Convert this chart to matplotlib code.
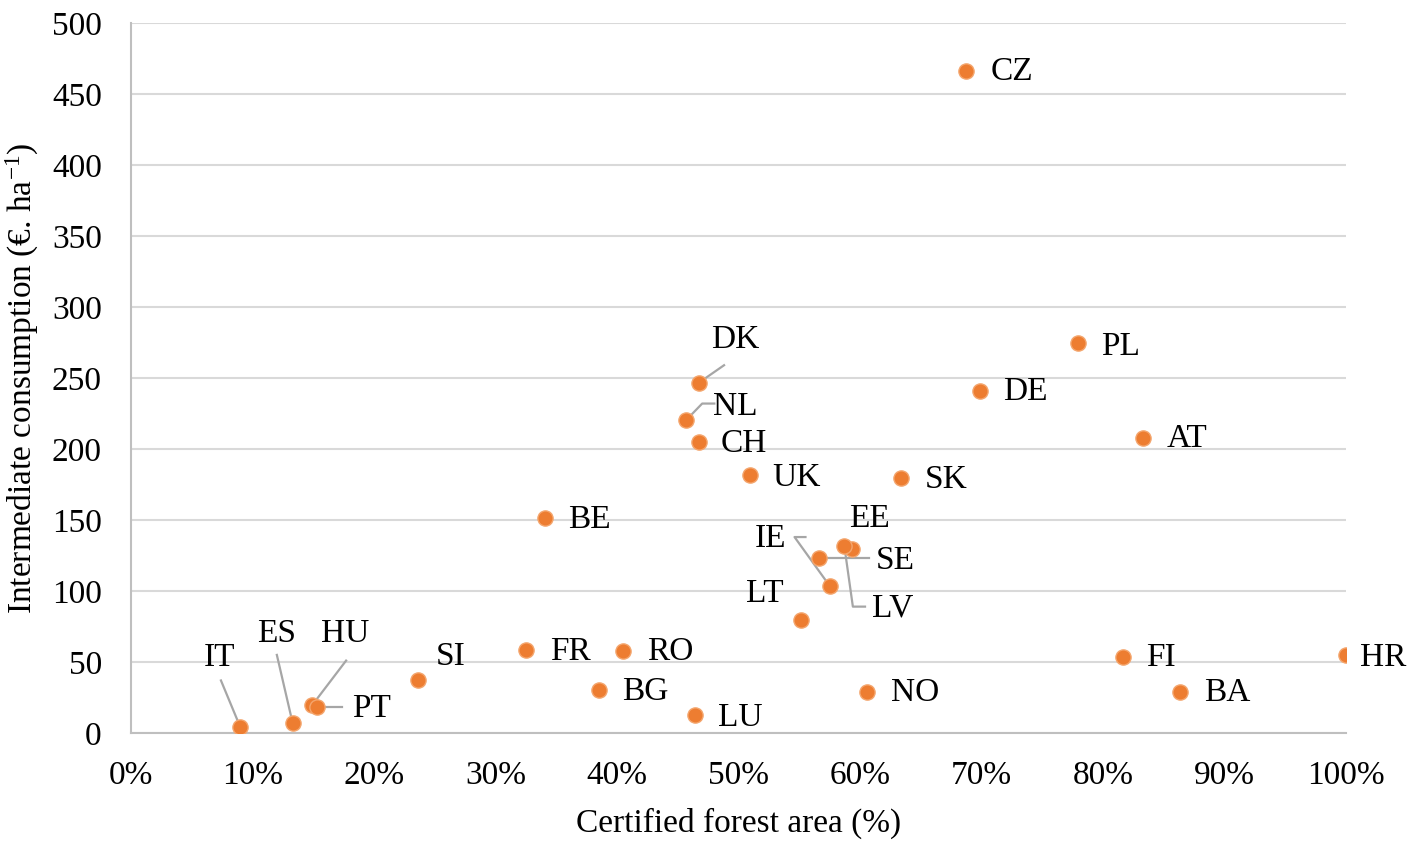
import matplotlib
matplotlib.use('Agg')
import matplotlib.pyplot as plt

plt.rcParams['font.family'] = ['Liberation Serif', 'DejaVu Serif']
plt.rcParams['mathtext.default'] = 'regular'

# country codes, certified forest area (%), intermediate consumption (EUR/ha)
countries = ['CZ', 'PL', 'DE', 'AT', 'SK', 'DK', 'NL', 'CH', 'UK', 'BE',
             'EE', 'LV', 'SE', 'IE', 'LT', 'FR', 'RO', 'BG', 'LU', 'NO',
             'FI', 'BA', 'HR', 'SI', 'IT', 'ES', 'HU', 'PT']
certified = [68.7, 77.9, 69.9, 83.3, 63.4, 46.7, 45.7, 46.7, 50.9, 34.1,
             59.3, 58.7, 56.6, 57.5, 55.1, 32.5, 40.5, 38.5, 46.4, 60.6,
             81.6, 86.3, 100.0, 23.6, 9.0, 13.3, 14.9, 15.3]
consumption = [466, 274.5, 241, 207.5, 179.5, 246.5, 220.5, 205, 181.5, 151.5,
               129.5, 131.5, 123, 103.5, 79.5, 58.5, 57.5, 30.5, 12.5, 29,
               53.5, 29, 55, 37.5, 4, 7, 19.5, 18.5]

# label placement: (x, y, ha) in data units, plus optional leader path
label_pos = {
    'CZ': (70.7, 466, 'left'), 'PL': (79.8, 272, 'left'), 'DE': (71.8, 240, 'left'),
    'AT': (85.2, 207, 'left'), 'SK': (65.3, 178, 'left'), 'DK': (49.7, 277, 'center'),
    'NL': (47.9, 230, 'left'), 'CH': (48.5, 204, 'left'), 'UK': (52.8, 180, 'left'),
    'BE': (36.0, 150, 'left'), 'EE': (60.8, 151, 'center'), 'IE': (53.9, 137, 'right'),
    'SE': (61.3, 121, 'left'), 'LV': (61.0, 88, 'left'), 'LT': (53.7, 98, 'right'),
    'FR': (34.5, 57, 'left'), 'RO': (42.5, 57, 'left'), 'BG': (40.4, 29, 'left'),
    'LU': (48.3, 11, 'left'), 'NO': (62.5, 28, 'left'), 'FI': (83.5, 53, 'left'),
    'BA': (88.3, 28, 'left'), 'HR': (101.1, 53, 'left'), 'SI': (25.1, 54, 'left'),
    'IT': (7.3, 53, 'center'), 'ES': (12.0, 70, 'center'), 'HU': (17.6, 70, 'center'),
    'PT': (18.2, 17, 'left'),
}
leaders = {
    'DK': [(48.8, 259)], 'NL': [(47.0, 232), (48.0, 232)],
    'IT': [(7.4, 37)], 'ES': [(12.0, 55)], 'HU': [(17.7, 51)],
    'PT': [(17.4, 18.5)], 'IE': [(54.6, 138), (55.5, 138)],
    'SE': [(60.7, 123)], 'LV': [(59.4, 89), (60.4, 89)],
}

fig = plt.figure(figsize=(14.18, 8.48), dpi=100)
ax = fig.add_axes([0.0924, 0.1356, 0.857, 0.8373])

lead_col = '#A6A6A6'
for i, c in enumerate(countries):
    if c in leaders:
        xs = [certified[i]] + [p[0] for p in leaders[c]]
        ys = [consumption[i]] + [p[1] for p in leaders[c]]
        ax.plot(xs, ys, color=lead_col, lw=1.6, zorder=2)

ax.scatter(certified, consumption, s=120, color='#ED7D31', edgecolor='#F4A66E',
           linewidth=1, zorder=3)

for c in countries:
    x, y, ha = label_pos[c]
    ax.text(x, y, c, ha=ha, va='center', fontsize=24, zorder=4)

ax.set_xlim(0, 100)
ax.set_ylim(0, 500)
ax.set_xticks(range(0, 101, 10))
ax.set_xticklabels([f'{v}%' for v in range(0, 101, 10)])
ax.set_yticks(range(0, 501, 50))
ax.tick_params(length=0, labelsize=24)
ax.tick_params(axis='x', pad=20)
ax.tick_params(axis='y', pad=21)
ax.grid(axis='y', color='#D9D9D9', lw=1.5)
ax.set_axisbelow(True)
for s in ['top', 'right']:
    ax.spines[s].set_visible(False)
for s in ['left', 'bottom']:
    ax.spines[s].set_color('#BFBFBF')
    ax.spines[s].set_linewidth(1.5)

ax.set_xlabel('Certified forest area (%)', fontsize=24, labelpad=12)
ax.set_ylabel('Intermediate consumption (€. ha$^{-1}$)', fontsize=24, labelpad=8)

fig.savefig('out.png', dpi=100)
